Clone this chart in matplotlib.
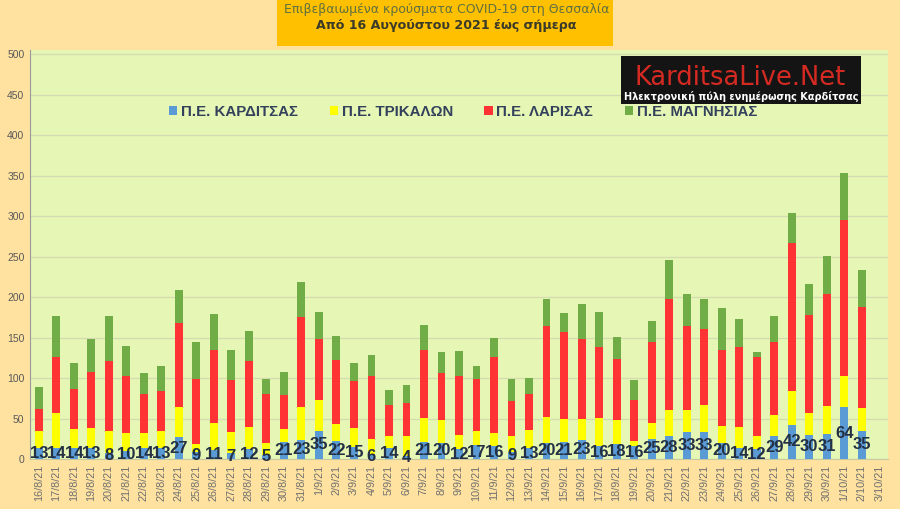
import matplotlib
matplotlib.use("Agg")
import matplotlib.pyplot as plt
from matplotlib.patches import Rectangle
import numpy as np

dates = ["16/8/21","17/8/21","18/8/21","19/8/21","20/8/21","21/8/21","22/8/21","23/8/21",
         "24/8/21","25/8/21","26/8/21","27/8/21","28/8/21","29/8/21","30/8/21","31/8/21",
         "1/9/21","2/9/21","3/9/21","4/9/21","5/9/21","6/9/21","7/9/21","8/9/21","9/9/21",
         "10/9/21","11/9/21","12/9/21","13/9/21","14/9/21","15/9/21","16/9/21","17/9/21",
         "18/9/21","19/9/21","20/9/21","21/9/21","22/9/21","23/9/21","24/9/21","25/9/21",
         "26/9/21","27/9/21","28/9/21","29/9/21","30/9/21","1/10/21","2/10/21","3/10/21"]

karditsa = [13,14,14,13,8,10,14,13,27,9,11,7,12,5,21,23,35,22,15,6,14,4,21,20,12,17,16,9,13,
            20,21,23,16,18,16,25,28,33,33,20,14,12,29,42,30,31,64,35,0]
trikala = [21,43,23,25,26,22,18,21,37,9,34,26,28,15,16,41,38,21,23,19,14,25,30,28,18,18,16,20,23,
           32,28,27,35,30,6,20,33,27,34,21,25,17,25,42,27,35,39,28,0]
larisa = [28,69,49,69,87,71,48,50,104,81,89,65,81,60,42,111,75,79,58,78,39,40,83,58,72,64,94,43,44,
          112,108,98,87,76,51,100,137,104,94,93,99,97,91,183,121,138,192,125,0]
magnisia = [27,51,33,41,56,36,26,31,41,46,45,37,37,19,28,44,34,30,22,25,18,22,31,26,31,16,24,27,20,
            34,23,43,43,27,25,26,48,40,36,52,35,6,32,37,38,47,58,45,0]

series_names = ["Π.Ε. ΚΑΡΔΙΤΣΑΣ", "Π.Ε. ΤΡΙΚΑΛΩΝ", "Π.Ε. ΛΑΡΙΣΑΣ", "Π.Ε. ΜΑΓΝΗΣΙΑΣ"]
colors = ["#5B9BD5", "#FFFF00", "#FF3333", "#70AD47"]
y_ticks = [0, 50, 100, 150, 200, 250, 300, 350, 400, 450, 500]

REG = ["Liberation Sans", "DejaVu Sans"]

fig = plt.figure(figsize=(9, 5.09), dpi=100)
fig.patch.set_facecolor("#FFE2A0")

ax = fig.add_axes([30/900, 1-459/509, 858/900, 409/509])
ax.set_facecolor("#E6F6B4")

x = np.arange(len(dates))
data = [karditsa, trikala, larisa, magnisia]
bottom = np.zeros(len(dates))
for vals, c, name in zip(data, colors, series_names):
    v = np.array(vals, dtype=float)
    ax.bar(x, v, 0.45, bottom=bottom, color=c, label=name, zorder=3)
    bottom = bottom + v

for xi, k in zip(x, karditsa):
    if k > 0:
        ax.text(xi, k/2, str(k), ha="center", va="center", fontsize=12,
                fontweight="bold", color="#243044", family=REG, zorder=5)

ax.set_xlim(-0.5, len(dates) - 0.5)
ax.set_ylim(0, 505)
ax.set_yticks(y_ticks)
ax.set_yticklabels([str(t) for t in y_ticks], family=REG, fontsize=7.5, color="#595959")
ax.set_xticks(x)
ax.set_xticklabels(dates, rotation=90, family=REG, fontsize=7.8, color="#707070")
ax.tick_params(axis="both", length=0, pad=4)
ax.grid(axis="y", color="#D2DCB0", linewidth=0.9, zorder=0)
for s in ["top", "right"]:
    ax.spines[s].set_visible(False)
ax.spines["left"].set_color("#9A9A9A")
ax.spines["bottom"].set_color("#C8C8A0")

leg = ax.legend(loc="center", bbox_to_anchor=(463/900, 1-112/509), bbox_transform=fig.transFigure,
                ncol=4, frameon=False, handlelength=0.55, handleheight=0.55, handletextpad=0.25,
                columnspacing=2.1, prop={"family": REG, "size": 10.8, "weight": "bold"})
for t in leg.get_texts():
    t.set_color("#33415C")

# Title box
fig.patches.append(Rectangle((277/900, 1-46/509), 336/900, 46/509, transform=fig.transFigure,
                             facecolor="#FFC000", edgecolor="none", zorder=1))
fig.text(447/900, 1-9/509, "Επιβεβαιωμένα κρούσματα COVID-19 στη Θεσσαλία", ha="center", va="center",
         fontsize=9.0, color="#5F7040", family=["DejaVu Sans"], zorder=2)
fig.text(446/900, 1-25/509, "Από 16 Αυγούστου 2021 έως σήμερα", ha="center", va="center",
         fontsize=9.1, color="#3A3A2A", fontweight="bold", family=["DejaVu Sans"], zorder=2)

# Logo box
fig.patches.append(Rectangle((621/900, 1-104/509), 240/900, 48/509, transform=fig.transFigure,
                             facecolor="#141414", edgecolor="none", zorder=4))
fig.text(740/900, 1-78/509, "KarditsaLive.Net", ha="center", va="center", fontsize=18.5,
         color="#D42A22", family=["DejaVu Sans"], zorder=5)
fig.text(741/900, 1-97/509, "Ηλεκτρονική πύλη ενημέρωσης Καρδίτσας", ha="center", va="center",
         fontsize=7, color="#FFFFFF", fontweight="bold", family=["DejaVu Sans"], zorder=5)

fig.savefig("out.png", dpi=100, facecolor=fig.get_facecolor())
